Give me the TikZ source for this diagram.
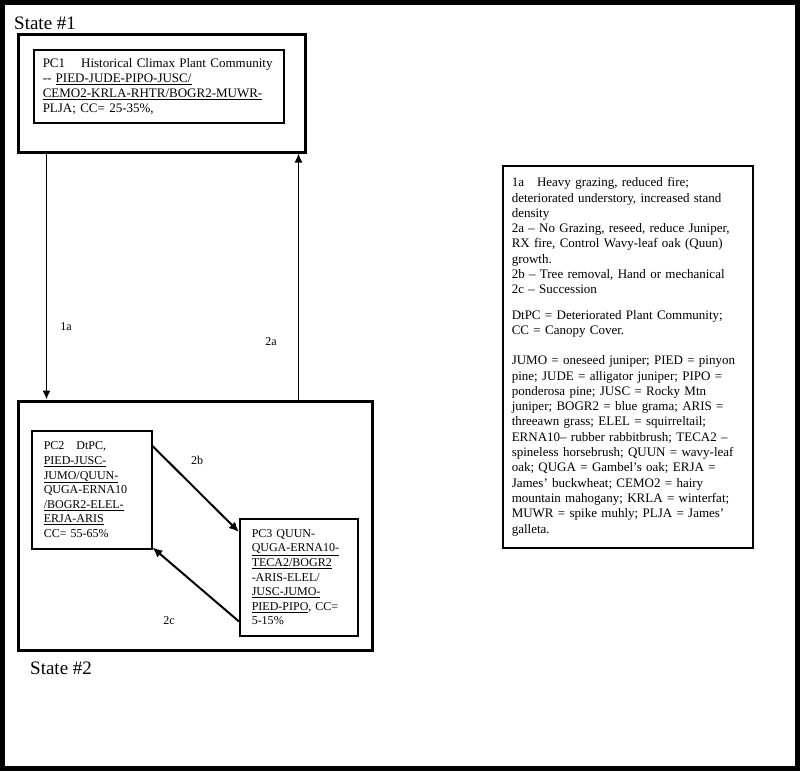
\documentclass[tikz,border=0pt]{standalone}
\usepackage{fontspec}
\setmainfont{Liberation Serif}
\usetikzlibrary{arrows.meta}
\tikzstyle{outerframe} = [line width=5pt, draw=black]
\tikzstyle{statebox} = [rectangle, line width=3pt, draw=black]
\tikzstyle{statelabel} = [inner sep=0pt, font=\fontsize{19}{21}\selectfont]
\tikzstyle{pcbox} = [rectangle, line width=1.5pt, draw=black, align=left, inner xsep=12pt, inner ysep=0pt]
\tikzstyle{bigtext} = [font=\fontsize{13}{15}\selectfont, inner xsep=9pt]
\tikzstyle{smalltext} = [font=\fontsize{12}{14.6}\selectfont]
\tikzstyle{legendbox} = [rectangle, line width=1.5pt, draw=black, align=left, inner xsep=9pt, inner ysep=0pt, font=\fontsize{13}{15.3}\selectfont]
\tikzstyle{translabel} = [inner sep=0pt, font=\fontsize{12}{14}\selectfont]
\tikzstyle{arrow} = [line width=1.3pt, ->, >={Latex[length=9pt,width=8pt]}]
\tikzstyle{arrowbold} = [line width=2pt, ->, >={Latex[length=10pt,width=9pt]}]

\begin{document}
\begin{tikzpicture}[x=1pt, y=-1pt]
    \useasboundingbox (0,0) rectangle (800,771);
    \draw [outerframe] (2.5,2.5) rectangle (797.5,768.5);

    % state 1
    \node (state1) [statebox, minimum width=287, minimum height=118] at (161.5,93) {};
    \node (state1-label) [statelabel, anchor=west] at (14,23) {State \#1};
    \node (pc1) [pcbox, bigtext, text width=232, minimum height=73, anchor=north west] at (33,49)
        {PC1\hspace{16pt}Historical Climax Plant Community\\
         {-}{-} \underline{PIED-JUDE-PIPO-JUSC/}\\
         \underline{CEMO2-KRLA-RHTR/BOGR2-MUWR-}\\
         PLJA; CC= 25-35\%,};

    % state 2
    \node (state2) [statebox, minimum width=354, minimum height=249] at (195,525.5) {};
    \node (state2-label) [statelabel, anchor=west] at (30,668) {State \#2};
    \node (pc2) [pcbox, smalltext, text width=96, minimum height=118, anchor=north west] at (31,430)
        {PC2\quad DtPC,\\
         \underline{PIED-JUSC-}\\
         \underline{JUMO/QUUN-}\\
         QUGA-ERNA10\\
         \underline{/BOGR2-ELEL-}\\
         \underline{ERJA-ARIS}\\
         CC= 55-65\%};
    \node (pc3) [pcbox, smalltext, text width=94, minimum height=117, anchor=north west] at (239,518)
        {PC3 QUUN-\\
         \underline{QUGA-ERNA10-}\\
         \underline{TECA2/BOGR2}\\
         -ARIS-ELEL/\\
         \underline{JUSC-JUMO-}\\
         \underline{PIED-PIPO}, CC=\\
         5-15\%};

    % legend
    \node (legend) [legendbox, text width=232, minimum height=382, anchor=north west] at (502,165)
        {1a\quad Heavy grazing, reduced fire;\\
         deteriorated understory, increased stand\\
         density\\
         2a -- No Grazing, reseed, reduce Juniper,\\
         RX fire, Control Wavy-leaf oak (Quun)\\
         growth.\\
         2b -- Tree removal, Hand or mechanical\\
         2c -- Succession\\[10pt]
         DtPC = Deteriorated Plant Community;\\
         CC = Canopy Cover.\\[15pt]
         JUMO = oneseed juniper; PIED = pinyon\\
         pine; JUDE = alligator juniper; PIPO =\\
         ponderosa pine; JUSC = Rocky Mtn\\
         juniper; BOGR2 = blue grama; ARIS =\\
         threeawn grass; ELEL = squirreltail;\\
         ERNA10-- rubber rabbitbrush; TECA2 --\\
         spineless horsebrush; QUUN = wavy-leaf\\
         oak; QUGA = Gambel's oak; ERJA =\\
         James' buckwheat; CEMO2 = hairy\\
         mountain mahogany; KRLA = winterfat;\\
         MUWR = spike muhly; PLJA = James'\\
         galleta.};

    % transitions
    \draw [arrow] ([xshift=30pt]state1.south west) -- ([xshift=30pt]state1.south west |- state2.north);
    \draw [arrow] ([xshift=-8pt]state1.south east |- state2.north) -- ([xshift=-8pt]state1.south east);
    \draw [arrowbold] ([yshift=-16pt]pc2.north east) -- ([yshift=-14pt]pc3.north west);
    \draw [arrowbold] ([yshift=15pt]pc3.south west) -- ([yshift=2pt]pc2.south east);

    \node (lbl-1a) [translabel] at (66,327) {1a};
    \node (lbl-2a) [translabel] at (271,342) {2a};
    \node (lbl-2b) [translabel] at (197,460) {2b};
    \node (lbl-2c) [translabel] at (169,621) {2c};
\end{tikzpicture}
\end{document}
